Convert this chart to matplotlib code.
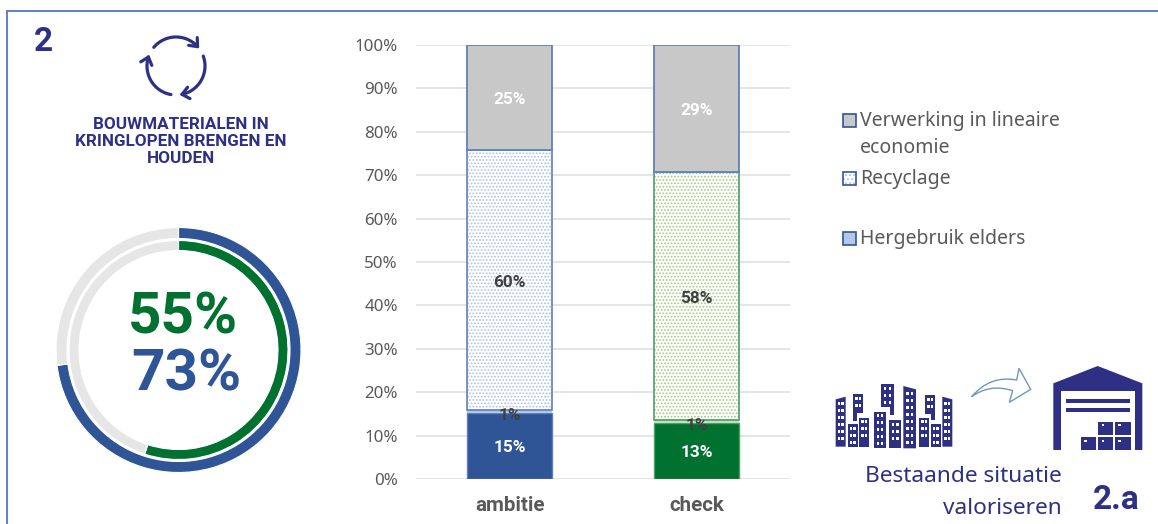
import numpy as np
import matplotlib
matplotlib.use("Agg")
import matplotlib.pyplot as plt
from matplotlib.patches import Rectangle, Polygon, PathPatch
from matplotlib.path import Path

W, H = 1158, 524
NAVY = "#2E3085"
BLUE = "#2F5597"
GREEN = "#00712F"
RING_GREY = "#E6E6E6"
GREY_TXT = "#595959"
BAR_EDGE = "#5F80BC"
BOLD = dict(family=["Roboto", "DejaVu Sans"], fontweight="bold")

categories = ["ambitie", "check"]
hergebruik_bouw = [15.2, 12.9]
hergebruik_elders = [0.7, 0.6]
recycling = [59.8, 57.2]
lineair = [24.3, 29.3]
labels_bottom = ["15%", "13%"]
labels_elders = ["1%", "1%"]
labels_recycling = ["60%", "58%"]
labels_lineair = ["25%", "29%"]
y_ticks = [0, 10, 20, 30, 40, 50, 60, 70, 80, 90, 100]

ring_outer = 73
ring_inner = 55

legend_labels = ["Verwerking in lineaire\neconomie", "Recyclage", "Hergebruik elders"]

plt.rcParams["font.family"] = ["Noto Sans", "DejaVu Sans"]
plt.rcParams["hatch.linewidth"] = 0.8

fig = plt.figure(figsize=(W / 100, H / 100), dpi=100, facecolor="white")


def px_axes(x0, y0, x1, y1, **kw):
    return fig.add_axes([x0 / W, 1 - y1 / H, (x1 - x0) / W, (y1 - y0) / H], **kw)


# overlay in pixel coords for frame, icons and text
ov = fig.add_axes([0, 0, 1, 1], zorder=5)
ov.set_xlim(0, W)
ov.set_ylim(H, 0)
ov.axis("off")
ov.patch.set_alpha(0)

# frame
ov.plot([7, 7, W], [H, 11, 11], color="#5F80BC", lw=1.4, solid_joinstyle="miter")

ov.text(43, 42, "2", color=NAVY, fontsize=24, ha="center", va="center", **BOLD)

# recycle icon
cx, cy, r = 176, 66, 29
for start in [140, 20, -100]:
    t = np.radians(np.linspace(start, start - 98, 40))
    ov.plot(cx + r * np.cos(t), cy - r * np.sin(t), color=NAVY, lw=2.3, solid_capstyle="round")
    tip = np.array([cx + r * np.cos(t[-1]), cy - r * np.sin(t[-1])])
    d = np.array([np.sin(t[-1]), np.cos(t[-1])])
    for a in [140, -140]:
        c, s = np.cos(np.radians(a)), np.sin(np.radians(a))
        p = tip + 9 * np.array([c * d[0] - s * d[1], s * d[0] + c * d[1]])
        ov.plot([tip[0], p[0]], [tip[1], p[1]], color=NAVY, lw=2.3, solid_capstyle="round")

ov.text(181, 141.5, "BOUWMATERIALEN IN\nKRINGLOPEN BRENGEN EN\nHOUDEN", color=NAVY, fontsize=12.3,
        ha="center", va="center", linespacing=1.2, **BOLD)

# donut rings
ring = px_axes(178.5 - 123, 350 - 123, 178.5 + 123, 350 + 123)
ring.pie([ring_outer, 100 - ring_outer], colors=[BLUE, RING_GREY], startangle=90, counterclock=False,
         radius=122.5, wedgeprops=dict(width=11, edgecolor="white", linewidth=0.8))
ring.pie([ring_inner, 100 - ring_inner], colors=[GREEN, RING_GREY], startangle=90, counterclock=False,
         radius=109.5, wedgeprops=dict(width=10, edgecolor="white", linewidth=0.8))
ring.set_xlim(-123, 123)
ring.set_ylim(-123, 123)
ring.axis("off")

ov.text(183, 318, f"{ring_inner}%", color=GREEN, fontsize=42, ha="center", va="center", **BOLD)
ov.text(186, 375, f"{ring_outer}%", color=BLUE, fontsize=42, ha="center", va="center", **BOLD)

# stacked bars, x runs half a category past the bars on each side
ax = px_axes(416, 45, 790, 479)
x = np.arange(len(categories))
bw = 0.455
bottoms = np.zeros(2)

ax.bar(x, hergebruik_bouw, bw, color=[BLUE, GREEN], edgecolor=[BAR_EDGE, "#4E9D6C"], lw=1, zorder=3)
bottoms += hergebruik_bouw
ax.bar(x, hergebruik_elders, bw, bottom=bottoms, color=["#B4C7E7", "#C5E0B4"], edgecolor="none", zorder=3)
bottoms += hergebruik_elders
ax.bar(x, recycling, bw, bottom=bottoms, color="white", edgecolor=["#A9C0E6", "#9CCB85"], hatch=".....",
       lw=0, zorder=3)
ax.bar(x, recycling, bw, bottom=bottoms, fill=False, edgecolor=[BAR_EDGE, "#4E9D6C"], lw=1.2, zorder=4)
rec_bottom = bottoms.copy()
bottoms += recycling
ax.bar(x, lineair, bw, bottom=bottoms, color="#C8C8C8", edgecolor=BAR_EDGE, lw=1.3, zorder=4)

nudge = -0.45  # Roboto sits a little high when centred
for i in range(2):
    ax.text(x[i], hergebruik_bouw[i] / 2 + nudge, labels_bottom[i], color="white", fontsize=12.4,
            ha="center", va="center", zorder=6, **BOLD)
    ax.text(x[i], hergebruik_bouw[i] + hergebruik_elders[i] / 2 - 0.4 + nudge, labels_elders[i], color="#404040",
            fontsize=12.4, ha="center", va="center", zorder=6, **BOLD)
    ax.text(x[i], rec_bottom[i] + recycling[i] / 2 + nudge, labels_recycling[i], color="#404040", fontsize=12.4,
            ha="center", va="center", zorder=6, **BOLD)
    ax.text(x[i], bottoms[i] + lineair[i] / 2 + nudge, labels_lineair[i], color="white", fontsize=12.4,
            ha="center", va="center", zorder=6, **BOLD)

ax.set_xlim(-0.5, 1.5)
ax.set_ylim(0, 100)
ax.set_yticks(y_ticks)
ax.set_yticklabels([f"{v}%" for v in y_ticks], fontsize=12.2, color=GREY_TXT)
ax.set_xticks(x)
ax.set_xticklabels(categories, fontsize=14.8, color=GREY_TXT, **BOLD)
ax.tick_params(axis="both", length=0)
ax.tick_params(axis="y", pad=13)
ax.tick_params(axis="x", pad=12)
ax.grid(axis="y", color="#E0E0E0", lw=1.2, zorder=0)
ax.set_axisbelow(True)
for s in ax.spines.values():
    s.set_visible(False)
ax.patch.set_alpha(0)

# legend
leg_y = [120, 178, 238]
leg_face = ["#C8C8C8", "white", "#B4C7E7"]
for yy, fc, lab in zip(leg_y, leg_face, legend_labels):
    if fc == "white":
        ov.add_patch(Rectangle((843, yy - 6.5), 13, 13, facecolor="white", edgecolor="#A9C0E6", lw=0, hatch="...."))
    ov.add_patch(Rectangle((843, yy - 6.5), 13, 13, facecolor=fc if fc != "white" else "none", edgecolor=BLUE, lw=1.2))
    lines = lab.split("\n")
    for k, line in enumerate(lines):
        ov.text(860, yy + k * 27 + 1, line, color=GREY_TXT, fontsize=14, ha="left", va="center")


def zx(v):
    return 820 + v / 3


def zy(v):
    return 350 + v / 3


def building(x0, y0, x1, y1, y0r=None):
    y0r = y0 if y0r is None else y0r
    ov.add_patch(Polygon([(zx(x0), zy(y0)), (zx(x1), zy(y0r)), (zx(x1), zy(y1)), (zx(x0), zy(y1))],
                         facecolor=NAVY, edgecolor="none"))
    cols = [x0 + (x1 - x0) * 0.32, x0 + (x1 - x0) * 0.68]
    for wy in np.arange(max(y0, y0r) + 8, y1 - 16, 21):
        for wx in cols:
            ov.add_patch(Rectangle((zx(wx) - 1.3, zy(wy)), 2.6, 3, facecolor="white", edgecolor="none"))


for b in [(47, 148, 77, 290, 140), (83, 222, 113, 290), (100, 133, 130, 188), (118, 203, 148, 290),
          (162, 185, 198, 295), (183, 102, 222, 170), (208, 210, 243, 295), (250, 108, 288, 295, 118),
          (297, 203, 328, 290), (315, 135, 345, 192), (333, 222, 362, 290), (367, 140, 397, 290, 148)]:
    building(*b)
# little tails under the upper towers
for a, b, c, d in [(100, 185, 112, 212), (210, 165, 222, 196), (333, 188, 345, 210)]:
    ov.add_patch(Rectangle((zx(a), zy(b)), (c - a) / 3, (d - b) / 3, facecolor=NAVY, edgecolor="none"))

# curved arrow outline
verts = [(455, 140), (510, 75), (590, 90), (597, 55), (632, 118), (568, 157), (578, 122), (510, 100), (455, 140)]
codes = [Path.MOVETO, Path.CURVE3, Path.CURVE3, Path.LINETO, Path.LINETO, Path.LINETO, Path.LINETO, Path.CURVE3,
         Path.CURVE3]
ov.add_patch(PathPatch(Path([(zx(a), zy(b)) for a, b in verts], codes), facecolor="white", edgecolor="#6F98BF", lw=1))

# warehouse icon
ov.add_patch(Polygon([(zx(a), zy(b)) for a, b in [(700, 100), (833, 48), (967, 100), (967, 300), (700, 300)]],
                     facecolor=NAVY, edgecolor="none"))
ov.add_patch(Rectangle((zx(722), zy(122)), 223 / 3, 178 / 3 + 1, facecolor="white", edgecolor="none"))
for a, b, c, d in [(737, 147, 930, 160), (737, 173, 930, 187), (835, 215, 880, 255), (885, 215, 932, 255),
                   (782, 262, 828, 300), (835, 262, 880, 300), (885, 262, 932, 300)]:
    ov.add_patch(Rectangle((zx(a), zy(b)), (c - a) / 3, (d - b) / 3, facecolor=NAVY, edgecolor="none"))
    if b > 200:
        ov.add_patch(Rectangle((zx(a + 10), zy(b + 7)), 2.5, 2, facecolor="white", edgecolor="none"))

ov.text(1062, 476, "Bestaande situatie", color=NAVY, fontsize=16.3, ha="right", va="center")
ov.text(1062, 509, "valoriseren", color=NAVY, fontsize=16.3, ha="right", va="center")
ov.text(1140, 500, "2.a", color=NAVY, fontsize=24, ha="right", va="center", **BOLD)

fig.savefig("out.png", dpi=100)
